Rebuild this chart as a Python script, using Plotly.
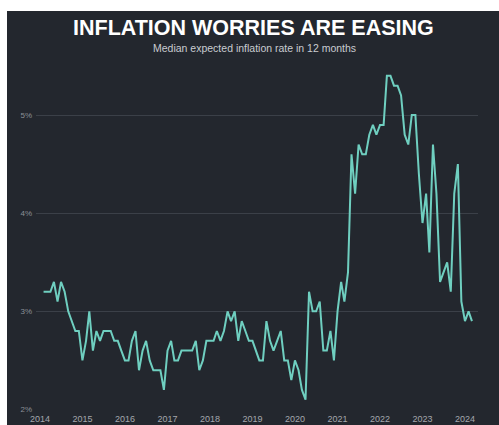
import pandas as pd
import plotly.graph_objects as go

start_month = "2014-02-01"
values = [
    3.2, 3.2, 3.2, 3.3, 3.1, 3.3, 3.2, 3.0, 2.9, 2.8, 2.8,            # 2014 Feb-Dec
    2.5, 2.7, 3.0, 2.6, 2.8, 2.7, 2.8, 2.8, 2.8, 2.7, 2.7, 2.6,       # 2015
    2.5, 2.5, 2.7, 2.8, 2.4, 2.6, 2.7, 2.5, 2.4, 2.4, 2.4, 2.2,       # 2016
    2.6, 2.7, 2.5, 2.5, 2.6, 2.6, 2.6, 2.6, 2.7, 2.4, 2.5, 2.7,       # 2017
    2.7, 2.7, 2.8, 2.7, 2.8, 3.0, 2.9, 3.0, 2.7, 2.9, 2.8, 2.7,       # 2018
    2.7, 2.6, 2.5, 2.5, 2.9, 2.7, 2.6, 2.7, 2.8, 2.5, 2.5, 2.3,       # 2019
    2.5, 2.4, 2.2, 2.1, 3.2, 3.0, 3.0, 3.1, 2.6, 2.6, 2.8, 2.5,       # 2020
    3.0, 3.3, 3.1, 3.4, 4.6, 4.2, 4.7, 4.6, 4.6, 4.8, 4.9, 4.8,       # 2021
    4.9, 4.9, 5.4, 5.4, 5.3, 5.3, 5.2, 4.8, 4.7, 5.0, 5.0, 4.4,       # 2022
    3.9, 4.2, 3.6, 4.7, 4.2, 3.3, 3.4, 3.5, 3.2, 4.2, 4.5, 3.1,       # 2023
    2.9, 3.0, 2.9,                                                    # 2024 Jan-Mar
]
dates = pd.date_range(start_month, periods=len(values), freq="MS")

year_ticks = [f"{y}-01-01" for y in range(2014, 2025)]
year_labels = [str(y) for y in range(2014, 2025)]
y_ticks = [2, 3, 4, 5]
y_labels = ["2%", "3%", "4%", "5%"]

title_text = "INFLATION WORRIES ARE EASING"
subtitle_text = "Median expected inflation rate in 12 months"

BG = "#23272e"
GRID = "#3b4048"
LINE = "#6fcfc0"

fig = go.Figure()
fig.add_trace(go.Scatter(
    x=dates, y=values, mode="lines",
    line=dict(color=LINE, width=2),
    hoverinfo="skip", showlegend=False,
))

W, H = 499, 425
ml, mr, mt, mb = 36, 21, 66, 15
pw, ph = W - ml - mr, H - mt - mb

def px_x(px):
    return (px - ml) / pw

def px_y(py):
    return (H - mb - py) / ph

fig.add_shape(type="rect", xref="paper", yref="paper",
              x0=px_x(7), x1=px_x(W + 5), y0=px_y(H + 5), y1=px_y(11),
              fillcolor=BG, line=dict(width=0), layer="below")

fig.add_annotation(xref="paper", yref="paper", x=px_x(253.5), y=px_y(28.5),
                   text=f"<b>{title_text}</b>", showarrow=False,
                   xanchor="center", yanchor="middle",
                   font=dict(family="Liberation Sans, Arial, sans-serif", size=21.5, color="#ffffff"))
fig.add_annotation(xref="paper", yref="paper", x=px_x(254), y=px_y(47.5),
                   text=subtitle_text, showarrow=False,
                   xanchor="center", yanchor="middle",
                   font=dict(family="Liberation Sans, Arial, sans-serif", size=10.5, color="#c9ccd1"))

fig.update_layout(
    template="none",
    width=W, height=H,
    margin=dict(l=ml, r=mr, t=mt, b=mb, pad=0, autoexpand=False),
    paper_bgcolor="#ffffff",
    plot_bgcolor="rgba(0,0,0,0)",
    font=dict(family="Liberation Sans, Arial, sans-serif"),
    xaxis=dict(
        type="date",
        range=["2013-11-28", "2024-04-22"],
        tickvals=year_ticks, ticktext=year_labels,
        showgrid=False, zeroline=False, showline=False,
        ticks="", ticklabelstandoff=2,
        tickfont=dict(size=9, color="#a3a7ad"),
        automargin=False, fixedrange=True,
    ),
    yaxis=dict(
        range=[1.995, 5.5],
        tickvals=y_ticks, ticktext=y_labels,
        showgrid=True, gridcolor=GRID, gridwidth=1,
        zeroline=False, showline=False,
        ticks="", ticklabelstandoff=3,
        tickfont=dict(size=8, color="#8c9097"),
        automargin=False, fixedrange=True,
    ),
)

fig.write_html("out.html")
